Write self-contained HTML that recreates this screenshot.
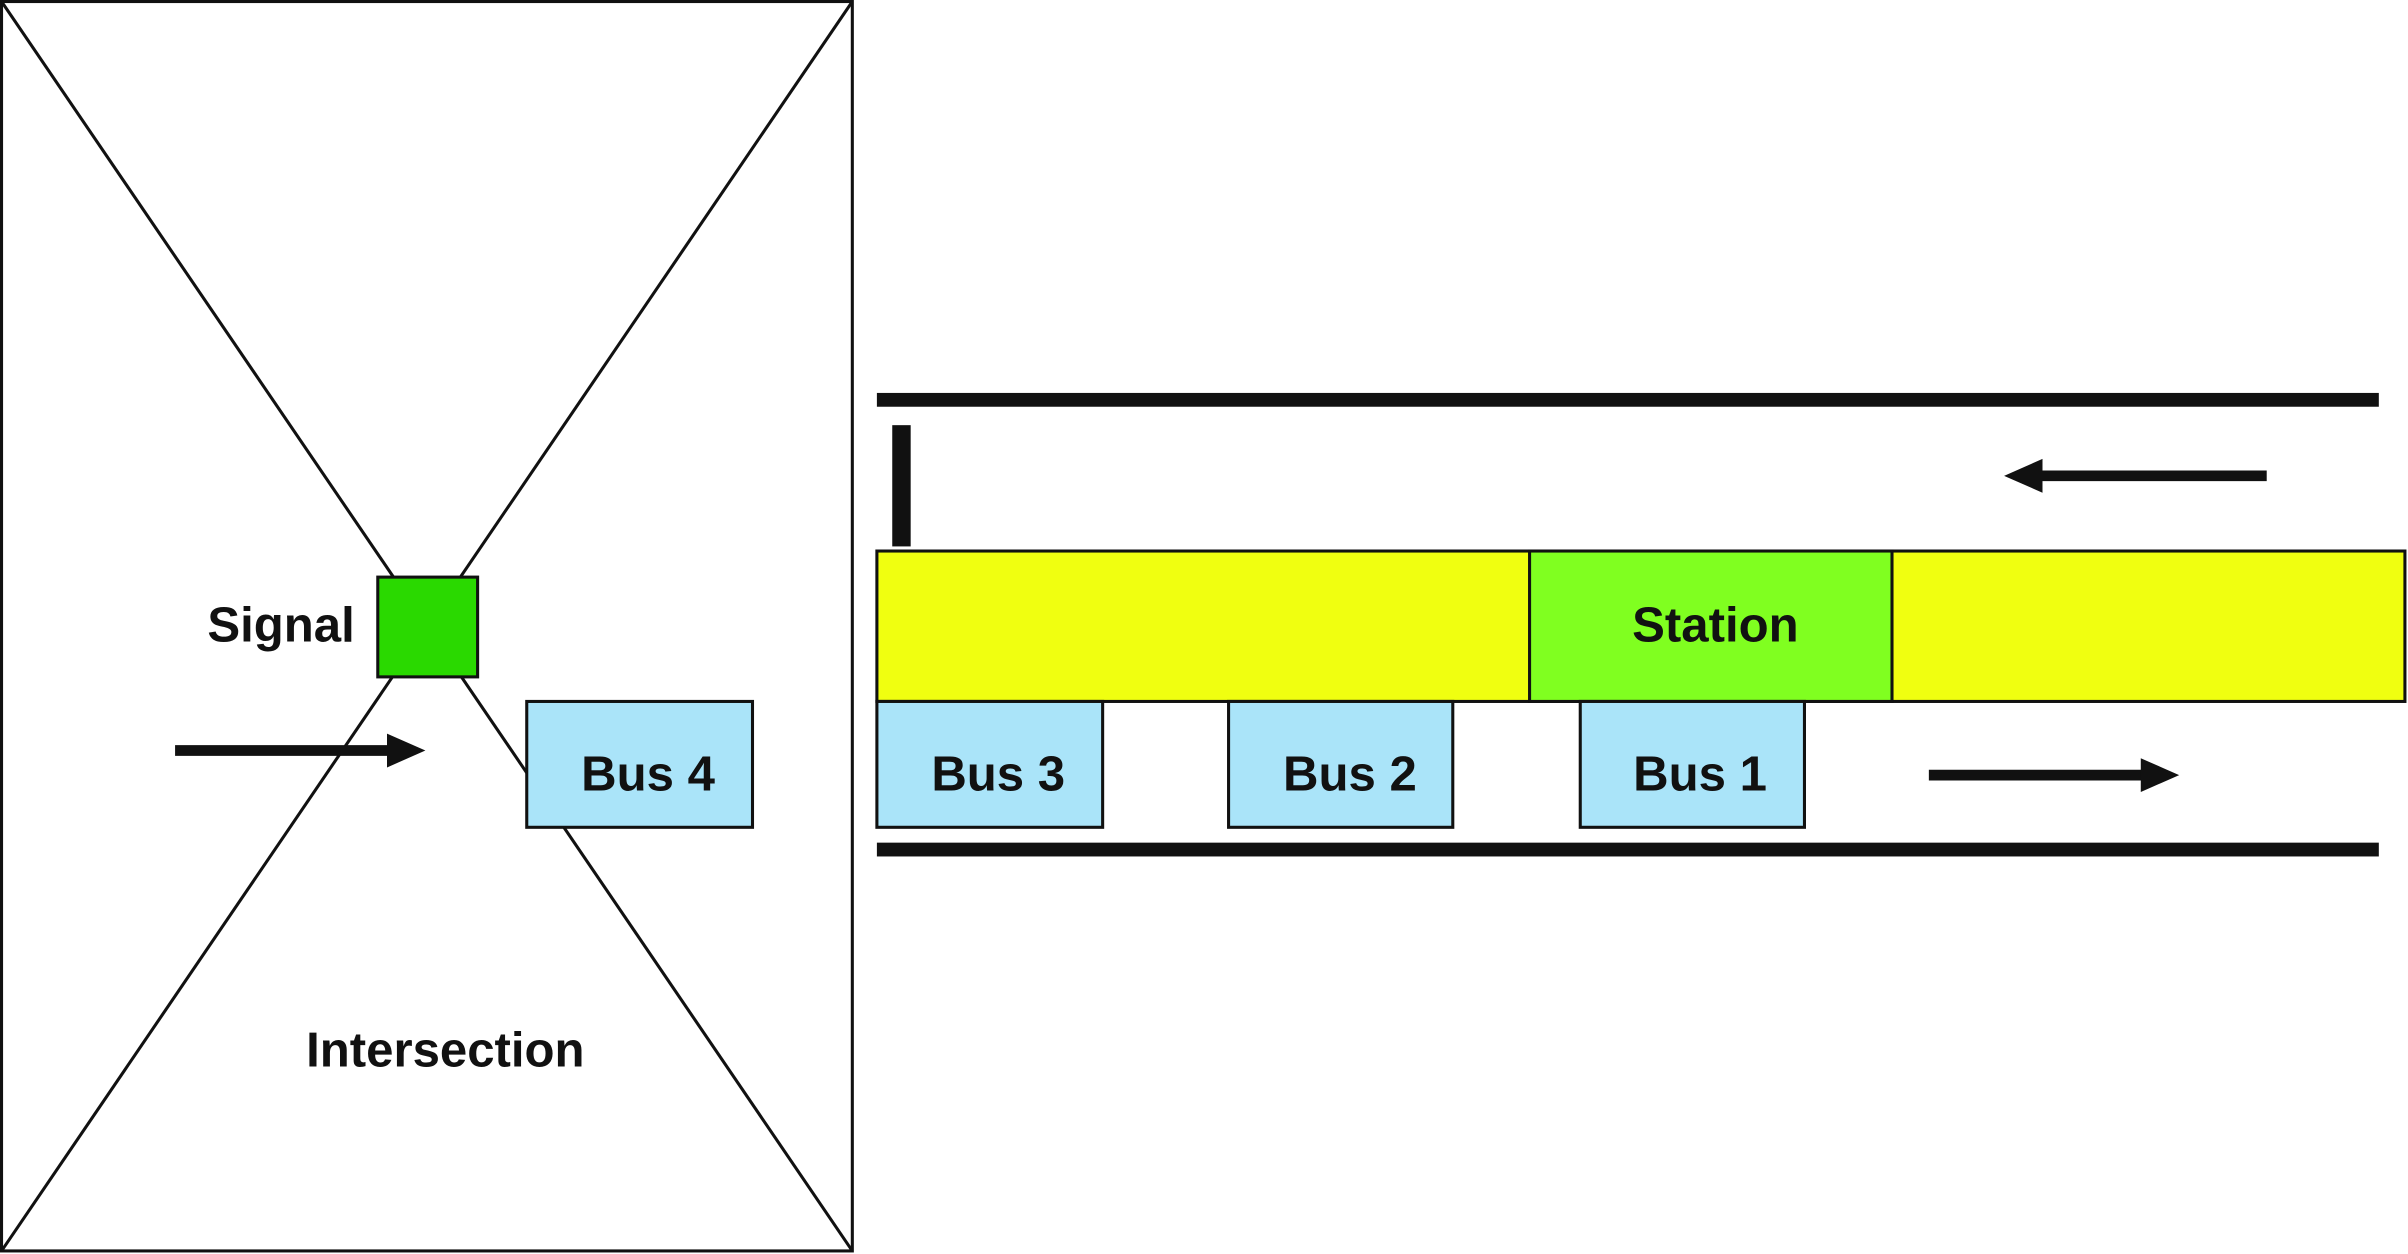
<!DOCTYPE html>
<html><head><meta charset="utf-8">
<style>
html,body{margin:0;padding:0;background:#fff;}
svg{display:block;}
text{font-family:"Liberation Sans",Arial,sans-serif;font-weight:bold;font-size:32px;fill:#111;}
</style></head>
<body>
<svg width="2408" height="1254" viewBox="0 0 1568 817" preserveAspectRatio="none">
  <g>
    <rect x="1" y="1" width="554" height="814" fill="#fff" stroke="#111" stroke-width="2"/>
    <line x1="1" y1="1" x2="555" y2="815" stroke="#111" stroke-width="2"/>
    <line x1="555" y1="1" x2="1" y2="815" stroke="#111" stroke-width="2"/>
    <rect x="246" y="376" width="65" height="65" fill="#2ad900" stroke="#111" stroke-width="2"/>
    <text x="183" y="418" text-anchor="middle">Signal</text>
    <g>
      <line x1="114" y1="489" x2="258" y2="489" stroke="#111" stroke-width="7"/>
      <polygon points="252,478 277,489 252,500" fill="#111"/>
    </g>
    <rect x="343" y="457" width="147" height="82" fill="#aae4f9" stroke="#111" stroke-width="2"/>
    <text x="422" y="515" text-anchor="middle">Bus 4</text>
    <text x="290" y="695" text-anchor="middle">Intersection</text>
  </g>
  <g>
    <rect x="571" y="256" width="978" height="9" fill="#111"/>
    <rect x="571" y="549" width="978" height="9" fill="#111"/>
    <rect x="581" y="277" width="12" height="79" fill="#111"/>
    <g>
      <line x1="1325" y1="310" x2="1476" y2="310" stroke="#111" stroke-width="7"/>
      <polygon points="1330,299 1305,310 1330,321" fill="#111"/>
    </g>
    <rect x="571" y="359" width="995" height="98" fill="#f0ff10" stroke="#111" stroke-width="2"/>
    <rect x="996" y="359" width="236" height="98" fill="#80ff20" stroke="#111" stroke-width="2"/>
    <text x="1117" y="418" text-anchor="middle">Station</text>
    <rect x="571" y="457" width="147" height="82" fill="#aae4f9" stroke="#111" stroke-width="2"/>
    <text x="650" y="515" text-anchor="middle">Bus 3</text>
    <rect x="800" y="457" width="146" height="82" fill="#aae4f9" stroke="#111" stroke-width="2"/>
    <text x="879" y="515" text-anchor="middle">Bus 2</text>
    <rect x="1029" y="457" width="146" height="82" fill="#aae4f9" stroke="#111" stroke-width="2"/>
    <text x="1107" y="515" text-anchor="middle">Bus 1</text>
    <g>
      <line x1="1256" y1="505" x2="1400" y2="505" stroke="#111" stroke-width="7"/>
      <polygon points="1394,494 1419,505 1394,516" fill="#111"/>
    </g>
  </g>
</svg>
</body></html>
